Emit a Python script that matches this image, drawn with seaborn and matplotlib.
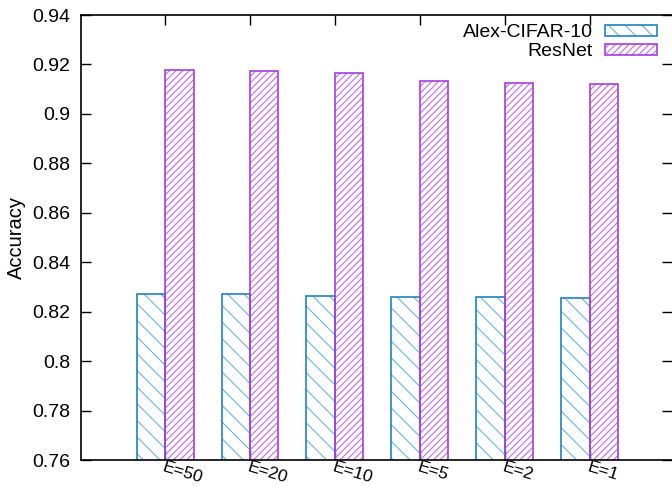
import pandas as pd
import matplotlib
matplotlib.use("Agg")
import matplotlib.pyplot as plt
import matplotlib.patches as mpatches
from matplotlib.colors import to_rgba
import seaborn as sns

# values
epochs = ["E=50", "E=20", "E=10", "E=5", "E=2", "E=1"]
alex_acc = [0.8270, 0.8270, 0.8265, 0.8258, 0.8258, 0.8257]
resnet_acc = [0.9176, 0.9174, 0.9164, 0.9133, 0.9125, 0.9120]
series = ["Alex-CIFAR-10", "ResNet"]
yticks = [0.76, 0.78, 0.80, 0.82, 0.84, 0.86, 0.88, 0.90, 0.92, 0.94]
ytick_labels = ["0.76", "0.78", "0.8", "0.82", "0.84", "0.86", "0.88", "0.9", "0.92", "0.94"]

df = pd.DataFrame({
    "epoch": epochs * 2,
    "model": [series[0]] * len(epochs) + [series[1]] * len(epochs),
    "acc": alex_acc + resnet_acc,
})

sns.set_theme(style="white", rc={"text.color": "black", "axes.labelcolor": "black",
                                 "xtick.color": "black", "ytick.color": "black"})
plt.rcParams["font.family"] = ["Liberation Sans", "DejaVu Sans"]
plt.rcParams["hatch.linewidth"] = 0.8

edge = {"Alex-CIFAR-10": "#1f83bd", "ResNet": "#a43ddc"}
hatch_col = {"Alex-CIFAR-10": "#6db4de", "ResNet": "#bf6ce8"}
hatch = {"Alex-CIFAR-10": "\\\\", "ResNet": "/////"}


def style_patch(p, m):
    p.set_facecolor("none")
    p.set_edgecolor(edge[m])
    p.set_hatch(hatch[m])
    p.set_linewidth(1.2)
    p._hatch_color = to_rgba(hatch_col[m])  # lighter hatch than outline


fig = plt.figure(figsize=(6.72, 4.86), dpi=100)
ax = fig.add_axes([81 / 672, 1 - 460 / 486, 1 - 81 / 672, (460 - 15) / 486])

sns.barplot(data=df, x="epoch", y="acc", hue="model", hue_order=series,
            palette=edge, width=0.67, ax=ax, legend=False, errorbar=None)

# bars in seaborn come out grouped by hue: first 6 blue, then 6 purple
for i, p in enumerate(ax.patches[:2 * len(epochs)]):
    style_patch(p, series[i // len(epochs)])

ax.set_xlim(-0.99, 5.97)
ax.set_ylim(0.76, 0.94)
ax.set_yticks(yticks)
ax.set_yticklabels(ytick_labels, fontsize=14)
ax.set_xticks(range(len(epochs)))
ax.set_xticklabels(epochs, fontsize=12.5, rotation=-17, ha="left", va="top",
                   rotation_mode="anchor")
ax.set_xlabel("")
ax.set_ylabel("Accuracy", fontsize=14.5, labelpad=4)
ax.tick_params(axis="both", direction="in", length=7, width=1, color="black",
               labelcolor="black", top=True, right=True, bottom=True, left=True)
ax.tick_params(axis="y", pad=8)
ax.tick_params(axis="x", pad=0)
for s in ax.spines.values():
    s.set_color("black")
    s.set_linewidth(1.2)
ax.spines["right"].set_visible(False)

handles = []
for m in series:
    h = mpatches.Patch(label=m)
    style_patch(h, m)
    handles.append(h)
fig.legend(handles=handles, loc="upper right", bbox_to_anchor=(0.978, 0.95),
           frameon=False, fontsize=14, markerfirst=False, handlelength=2.7,
           handleheight=0.5, handletextpad=0.6, labelspacing=0.1,
           borderpad=0, borderaxespad=0, labelcolor="black")

fig.savefig("out.png", dpi=100)
